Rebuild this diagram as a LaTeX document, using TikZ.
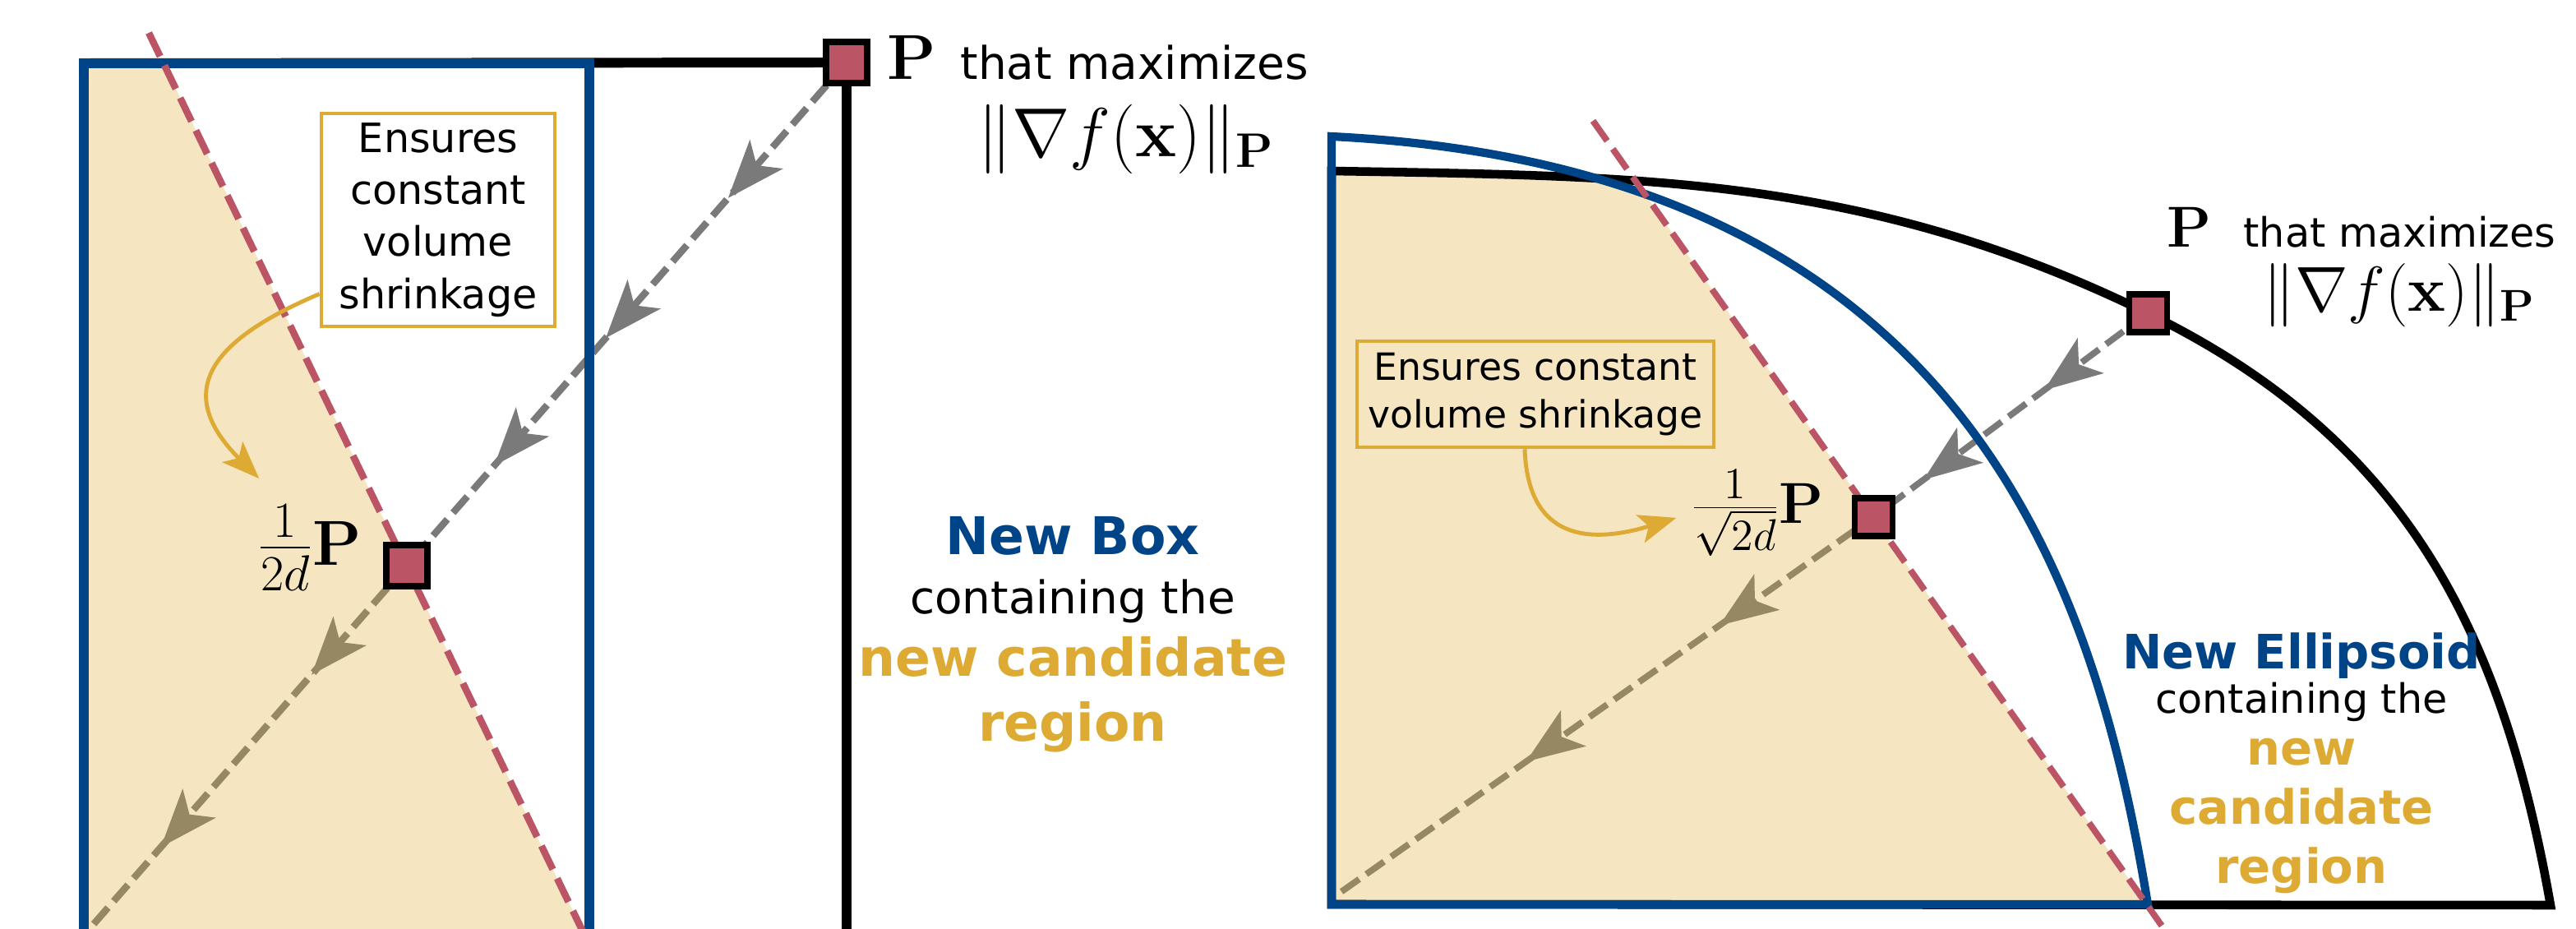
\RequirePackage{fix-cm}
\documentclass[tikz,border=0pt]{standalone}
\usepackage[no-math]{fontspec}
\setmainfont{DejaVu Sans}
\usetikzlibrary{arrows.meta, decorations.markings, positioning}

\definecolor{tolblue}{HTML}{004488}
\definecolor{tolgold}{HTML}{DDAA33}
\definecolor{tolred}{HTML}{BB5566}
\definecolor{dirgray}{HTML}{7A7A7A}

\newcommand{\oldellipse}{(16.20,-11.00) -- (16.20,-2.08) .. controls (20.05,-2.145) and (22.71,-2.142) .. (26.13,-3.81) .. controls (29.23,-5.325) and (30.43,-7.612) .. (31.03,-11.01) -- cycle}

\begin{document}
\begin{tikzpicture}[
        steptip/.tip = {Stealth[length = 20pt, width = 15pt, inset = 5pt]},
        region/.style = {fill = tolgold, fill opacity = 0.3},
        oldset/.style = {draw = black, line width = 3.4pt},
        newset/.style = {draw = tolblue, line width = 3.6pt},
        cutline/.style = {draw = tolred, line width = 2.4pt, dash pattern = on 9pt off 3.5pt},
        descent/.style = {draw = dirgray, line width = 2.4pt, dash pattern = on 7.5pt off 3pt},
        pmark/.style = {draw = black, fill = tolred, line width = 2.3pt, minimum size = 0.5cm, inner sep = 0pt},
        note/.style = {draw = tolgold, line width = 1.3pt, align = center, inner sep = 0pt},
        notearrow/.style = {draw = tolgold, line width = 1.4pt, -{Stealth[length = 13pt, width = 10pt, inset = 3pt]}},
        mathlabel/.style = {inner sep = 0pt, font = \fontsize{22}{26}\selectfont},
        caption/.style = {align = center, inner sep = 0pt},
        boxsteps/.style = {postaction = decorate, decoration = {markings,
            mark = at position 0.155 with {\arrow{steptip}},
            mark = at position 0.315 with {\arrow{steptip}},
            mark = at position 0.461 with {\arrow{steptip}},
            mark = at position 0.700 with {\arrow{steptip}},
            mark = at position 0.897 with {\arrow{steptip}}}},
        ellsteps/.style = {postaction = decorate, decoration = {markings,
            mark = at position 0.130 with {\arrow{steptip}},
            mark = at position 0.281 with {\arrow{steptip}},
            mark = at position 0.533 with {\arrow{steptip}},
            mark = at position 0.771 with {\arrow{steptip}}}}
    ]

    \useasboundingbox (0,0) rectangle (31.34,-11.30);
    \clip (0,0) rectangle (31.34,-11.30);

    \coordinate (lA) at (10.30,-0.76);
    \coordinate (lB) at (4.95,-6.88);
    \coordinate (lEnd) at (1.00,-11.40);
    \coordinate (lTL) at (1.02,-0.77);
    \coordinate (lTR) at (7.17,-0.77);
    \coordinate (lBR) at (7.17,-11.60);
    \coordinate (lBL) at (1.02,-11.60);
    \coordinate (lcutTop) at (1.81,-0.40);
    \coordinate (lcutBot) at (7.24,-11.64);

    \coordinate (rO) at (16.20,-11.00);
    \coordinate (rTL) at (16.20,-1.66);
    \coordinate (rE) at (26.13,-11.00);
    \coordinate (rA) at (26.13,-3.81);
    \coordinate (rB) at (22.79,-6.29);
    \coordinate (rEnd) at (16.30,-10.86);
    \coordinate (rcutTop) at (19.38,-1.47);
    \coordinate (rcutBot) at (26.30,-11.26);

    \draw[descent, boxsteps] (lA) -- (lB) -- (lEnd);
    \draw[descent, ellsteps, line width = 2.2pt] (rA) -- (rB) -- (rEnd);

    \fill[region] (lTL) -- (intersection of lcutTop--lcutBot and lTL--lTR) -- (lcutBot) -- (lBL) -- cycle;
    \begin{scope}
        \clip \oldellipse;
        \fill[region] (rO) -- (16.20,-1.00) -- (rcutTop) -- (rcutBot) -- cycle;
    \end{scope}

    \draw[oldset] (lTL) -- (lA) -- (lA |- lBL);
    \draw[oldset, line width = 3pt] \oldellipse;

    \draw[newset] (lTL) rectangle (lBR);
    \draw[newset, line width = 2.9pt] (rO) -- (rTL) .. controls (23.87,-2.04) and (25.48,-7.04) .. (rE) -- cycle;

    \draw[cutline] (lcutTop) -- (lcutBot);
    \draw[cutline, line width = 2.2pt, dash pattern = on 8.5pt off 3.4pt] (rcutTop) -- (rcutBot);

    \node[pmark] (lsqA) at (lA) {};
    \node[pmark] (lsqB) at (lB) {};
    \node[pmark, minimum size = 0.46cm, line width = 2pt] (rsqA) at (rA) {};
    \node[pmark, minimum size = 0.46cm, line width = 2pt] (rsqB) at (rB) {};


    \node[mathlabel, right = 0.2cm of lsqA, yshift = 0.06cm] (lP) {$\mathbf{P}$};
    \node[inner sep = 0pt, font = \fontsize{15.6}{18}\selectfont,
          right = 0.28cm of lP.base east, anchor = base west] (lmax) {that maximizes};
    \node[mathlabel, font = \fontsize{24}{28}\selectfont, anchor = base] (lnorm) at ([shift = {(-0.1cm,-0.94cm)}]lmax.base) {$\|\nabla f(\mathbf{x})\|_{\mathbf{P}}$};

    \node[mathlabel, anchor = base east] (lfrac) at ([xshift = -0.25cm]lsqB.west) {{\fontsize{25}{30}\selectfont$\frac{1}{2d}$}$\mathbf{P}$};

    \node[note, minimum width = 2.84cm, minimum height = 2.59cm,
          font = \fontsize{14}{18}\selectfont] (lnote) at (5.33,-2.675) {Ensures\\constant\\volume\\shrinkage};
    \draw[notearrow] ([yshift = -0.9cm]lnote.west) to[out = 203, in = 135, looseness = 1.6] ([shift = {(0.03cm,0.31cm)}]lfrac.north west);

    \node[caption, font = \fontsize{15.6}{21.6}\selectfont] (lcap) at (13.05,-7.72)
        {{\fontsize{18}{21.6}\selectfont\bfseries\color{tolblue}New Box}\\[-1.1pt]
         containing the\\
         {\fontsize{18}{21.6}\selectfont\bfseries\color{tolgold}new candidate}\\[0.9pt]
         {\fontsize{18}{21.6}\selectfont\bfseries\color{tolgold}region}};


    \node[mathlabel, font = \fontsize{20}{24}\selectfont,
          above right = 0.53cm and -0.04cm of rsqA] (rP) {$\mathbf{P}$};
    \node[inner sep = 0pt, font = \fontsize{14}{17}\selectfont,
          right = 0.38cm of rP.base east, anchor = base west] (rmax) {that maximizes};
    \node[mathlabel, anchor = base] (rnorm) at ([yshift = -0.78cm]rmax.base) {$\|\nabla f(\mathbf{x})\|_{\mathbf{P}}$};

    \node[mathlabel, font = \fontsize{20}{24}\selectfont, anchor = base east] (rfrac) at ([shift = {(-0.33cm,-0.08cm)}]rsqB.west) {{\fontsize{22}{26}\selectfont$\frac{1}{\sqrt{2d}}$}$\mathbf{P}$};

    \node[note, minimum width = 4.34cm, minimum height = 1.29cm,
          font = \fontsize{13}{16.5}\selectfont] (rnote) at (18.68,-4.795) {Ensures constant\\volume shrinkage};
    \draw[notearrow] ([xshift = -0.13cm]rnote.south) to[out = -88, in = 197, looseness = 1.4] ([shift = {(-0.17cm,-0.06cm)}]rfrac.west);

    \node[caption, font = \fontsize{14}{20.5}\selectfont] (rcap) at (28.00,-9.285)
        {{\fontsize{16.4}{20.5}\selectfont\bfseries\color{tolblue}New Ellipsoid}\\[-5.1pt]
         containing the\\[-2.6pt]
         {\fontsize{16.4}{20.5}\selectfont\bfseries\color{tolgold}new}\\
         {\fontsize{16.4}{20.5}\selectfont\bfseries\color{tolgold}candidate}\\
         {\fontsize{16.4}{20.5}\selectfont\bfseries\color{tolgold}region}};

\end{tikzpicture}
\end{document}
